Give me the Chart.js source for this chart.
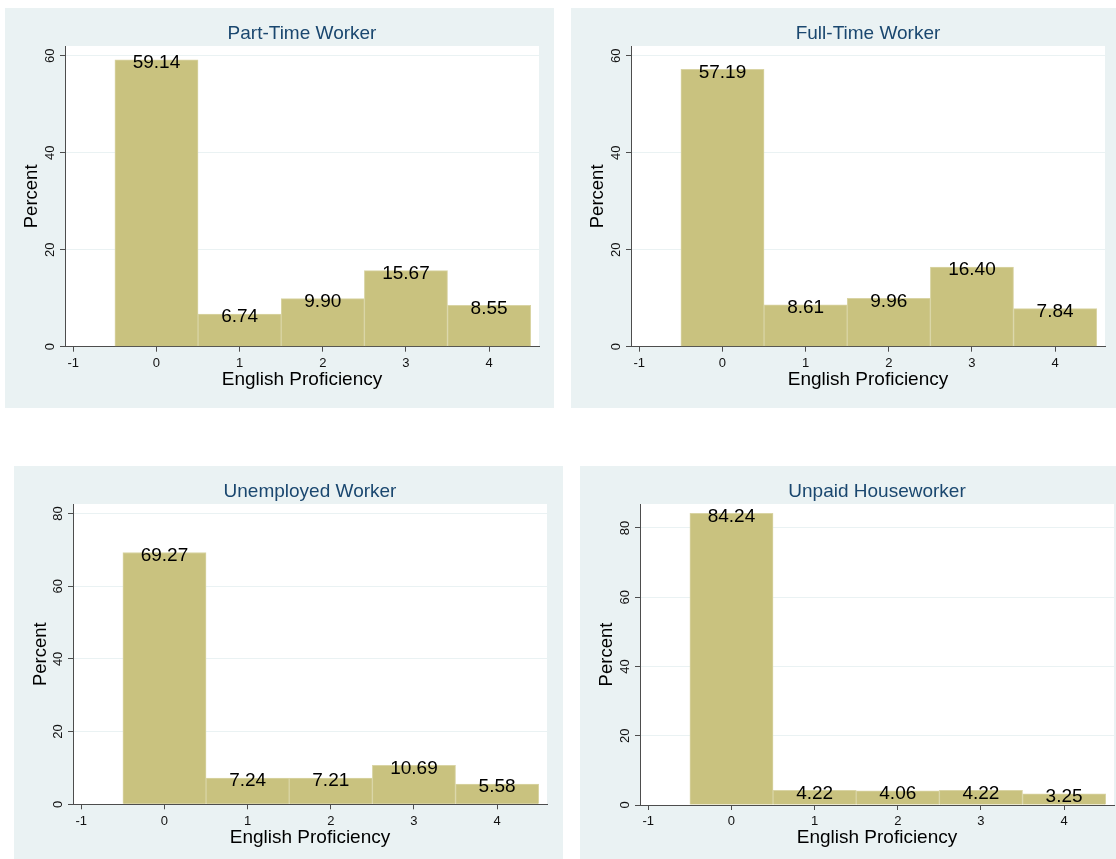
<!DOCTYPE html>
<html>
<head>
<meta charset="utf-8">
<script src="https://cdn.jsdelivr.net/npm/chart.js@4.4.0/dist/chart.umd.min.js"></script>
<style>
  body { margin: 0; background: #fff; width: 1116px; height: 859px; position: relative; overflow: hidden; }
  canvas { position: absolute; }
</style>
</head>
<body>
<canvas id="c1" width="549" height="400" style="left:5px;top:8px"></canvas>
<canvas id="c2" width="545" height="400" style="left:571px;top:8px"></canvas>
<canvas id="c3" width="549" height="393" style="left:14px;top:466px"></canvas>
<canvas id="c4" width="536" height="393" style="left:580px;top:466px"></canvas>
<script>
// English proficiency levels (bar centres) and x-axis ticks
const levels = [0, 1, 2, 3, 4];
const xTicks = [-1, 0, 1, 2, 3, 4];

// Percent of each group at each level
const partTime = [59.14, 6.74, 9.90, 15.67, 8.55];
const fullTime = [57.19, 8.61, 9.96, 16.40, 7.84];
const unemployed = [69.27, 7.24, 7.21, 10.69, 5.58];
const unpaidHouse = [84.24, 4.22, 4.06, 4.22, 3.25];

// y-axis ticks
const yTicksSmall = [0, 20, 40, 60];
const yTicksLarge = [0, 20, 40, 60, 80];

const FONT = '"Liberation Sans", Arial, Helvetica, sans-serif';
const BG = '#eaf2f3';
const AXIS = '#4d4d4d';

// panel background, white plot region, rotated y labels and bar labels
const stataPlugin = {
    id: 'stataPlugin',
    beforeDraw(chart) {
        const { ctx, chartArea: a } = chart;
        ctx.save();
        ctx.fillStyle = BG;
        ctx.fillRect(0, 0, chart.width, chart.height);
        ctx.fillStyle = '#fff';
        ctx.fillRect(a.left, a.top, a.right - a.left, a.bottom - a.top);
        ctx.restore();
    },
    afterDraw(chart) {
        const ctx = chart.ctx;
        const yScale = chart.scales.y;
        ctx.save();
        ctx.fillStyle = '#111';
        ctx.font = '13px ' + FONT;
        ctx.textAlign = 'center';
        ctx.textBaseline = 'alphabetic';
        yScale.ticks.forEach(t => {
            const py = yScale.getPixelForValue(t.value);
            ctx.save();
            ctx.translate(yScale.right - 11, py);
            ctx.rotate(-Math.PI / 2);
            ctx.fillText(String(t.value), 0, 0);
            ctx.restore();
        });

        const values = chart.data.datasets[0].data;
        ctx.fillStyle = '#000';
        ctx.font = '19px ' + FONT;
        chart.getDatasetMeta(0).data.forEach((bar, i) => {
            ctx.fillText(values[i].y.toFixed(2), bar.x, bar.y + 8.3);
        });
        ctx.restore();
    }
};

function makePanel(id, title, values, yMax, yTicks, yAxisW, rightPad, xAxisH, xTitlePad) {
    new Chart(document.getElementById(id), {
        type: 'bar',
        data: {
            datasets: [{
                data: levels.map((x, i) => ({ x: x, y: values[i] })),
                backgroundColor: '#c9c27f',
                borderColor: '#d9d4a4',
                borderWidth: 1,
                categoryPercentage: 1,
                barPercentage: 1
            }]
        },
        options: {
            responsive: false,
            animation: false,
            devicePixelRatio: 1,
            layout: { padding: { left: 0, top: 0, right: rightPad, bottom: 0 } },
            plugins: {
                legend: { display: false },
                tooltip: { enabled: false },
                title: {
                    display: true,
                    text: title,
                    fullSize: false,
                    color: '#1a476f',
                    font: { family: FONT, size: 19, weight: 'normal' },
                    padding: { top: 14.7, bottom: 0.5 }
                }
            },
            scales: {
                x: {
                    type: 'linear',
                    min: -1.1,
                    max: 4.6,
                    offset: false,
                    afterBuildTicks: s => { s.ticks = xTicks.map(v => ({ value: v })); },
                    afterFit: s => { s.height = xAxisH; },
                    grid: {
                        offset: false,
                        drawOnChartArea: false,
                        drawTicks: true,
                        tickLength: 5,
                        tickColor: AXIS
                    },
                    border: { display: true, color: AXIS, width: 1 },
                    ticks: {
                        color: '#111',
                        padding: 4,
                        font: { family: FONT, size: 13 },
                        maxRotation: 0
                    },
                    title: {
                        display: true,
                        text: 'English Proficiency',
                        color: '#000',
                        font: { family: FONT, size: 19 },
                        padding: { top: 0, bottom: xTitlePad }
                    }
                },
                y: {
                    min: 0,
                    max: yMax,
                    afterBuildTicks: s => { s.ticks = yTicks.map(v => ({ value: v })); },
                    afterFit: s => { s.width = yAxisW; },
                    grid: {
                        color: c => (c.tick && c.tick.value === 0) ? 'rgba(0,0,0,0)' : BG,
                        drawTicks: true,
                        tickLength: 5,
                        tickColor: AXIS
                    },
                    border: { display: true, color: AXIS, width: 1 },
                    ticks: { display: false },
                    title: {
                        display: true,
                        text: 'Percent',
                        color: '#000',
                        font: { family: FONT, size: 18.5 },
                        padding: { top: 16, bottom: 0 }
                    }
                }
            }
        },
        plugins: [stataPlugin]
    });
}

makePanel('c1', 'Part-Time Worker', partTime, 62.0, yTicksSmall, 60, 15, 61.3, 16.8);
makePanel('c2', 'Full-Time Worker', fullTime, 62.0, yTicksSmall, 60, 11, 61.3, 16.8);
makePanel('c3', 'Unemployed Worker', unemployed, 82.6, yTicksLarge, 59, 16, 54.7, 10.2);
makePanel('c4', 'Unpaid Houseworker', unpaidHouse, 86.9, yTicksLarge, 60, 2, 54, 9.5);
</script>
</body>
</html>
